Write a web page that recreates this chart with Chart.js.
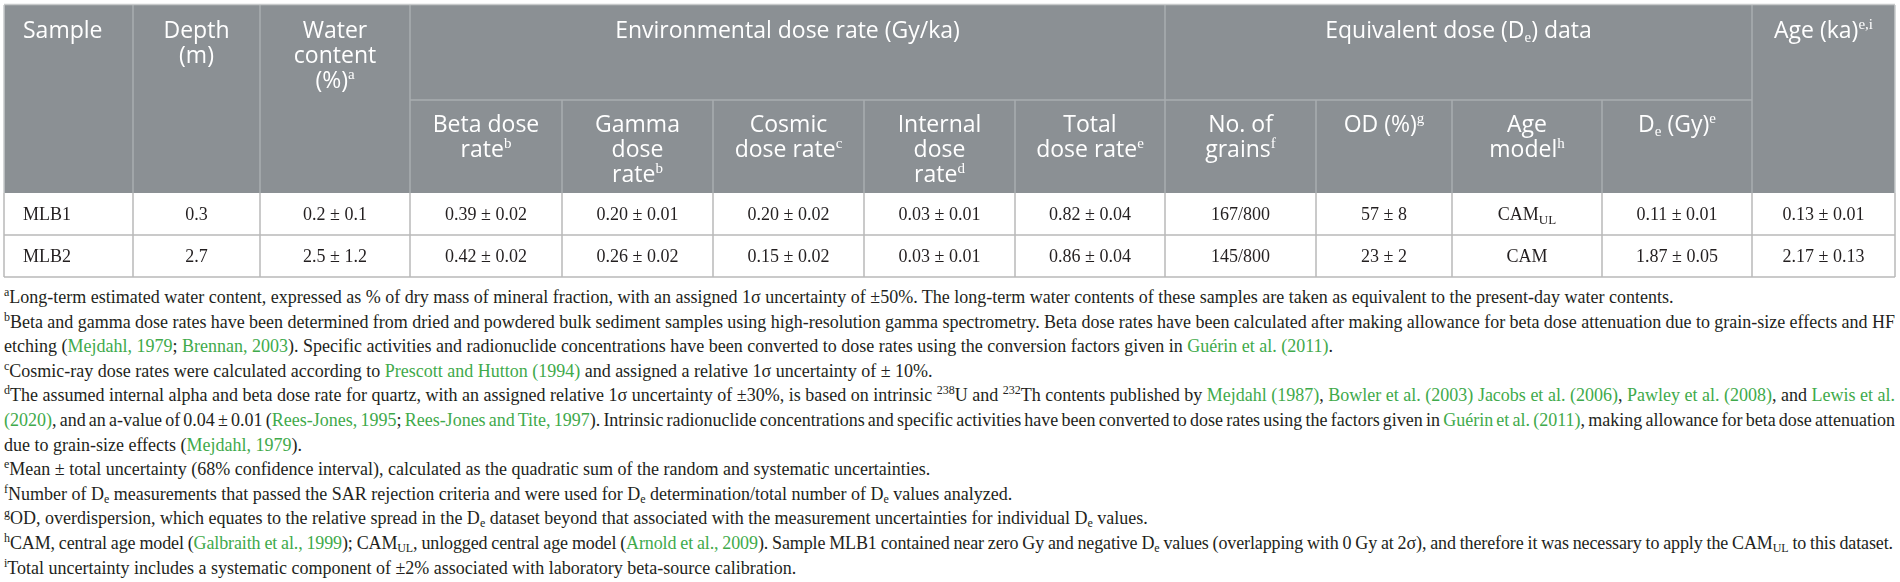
<!DOCTYPE html>
<html>
<head>
<meta charset="utf-8">
<script src="https://cdn.jsdelivr.net/npm/chart.js@4/dist/chart.umd.min.js"></script>
<style>
html, body { margin: 0; padding: 0; background: #fff; }
body { width: 1900px; height: 582px; overflow: hidden; position: relative; }
#tableChart { position: absolute; left: 0; top: 0; }
#notes { position: absolute; left: 4px; top: 285px; width: 1891px;
  font-family: "Liberation Serif", "Times New Roman", serif; font-size: 18px;
  line-height: 24.6px; color: #231f20; }
#notes div { white-space: nowrap; }
#notes a { color: #3faa4b; text-decoration: none; }
#notes sup { font-size: 12px; line-height: 0; vertical-align: 7px; }
#notes sub { font-size: 12px; line-height: 0; vertical-align: -3px; }
</style>
</head>
<body>
<canvas id="tableChart" width="1900" height="282">
  <table>
    <tr><th>Sample</th><th>Depth (m)</th><th>Water content (%)</th><th>Beta dose rate</th><th>Gamma dose rate</th><th>Cosmic dose rate</th><th>Internal dose rate</th><th>Total dose rate</th><th>No. of grains</th><th>OD (%)</th><th>Age model</th><th>De (Gy)</th><th>Age (ka)</th></tr>
    <tr><td>MLB1</td><td>0.3</td><td>0.2 ± 0.1</td><td>0.39 ± 0.02</td><td>0.20 ± 0.01</td><td>0.20 ± 0.02</td><td>0.03 ± 0.01</td><td>0.82 ± 0.04</td><td>167/800</td><td>57 ± 8</td><td>CAMUL</td><td>0.11 ± 0.01</td><td>0.13 ± 0.01</td></tr>
    <tr><td>MLB2</td><td>2.7</td><td>2.5 ± 1.2</td><td>0.42 ± 0.02</td><td>0.26 ± 0.02</td><td>0.15 ± 0.02</td><td>0.03 ± 0.01</td><td>0.86 ± 0.04</td><td>145/800</td><td>23 ± 2</td><td>CAM</td><td>1.87 ± 0.05</td><td>2.17 ± 0.13</td></tr>
  </table>
</canvas>
<div id="notes">
  <div><sup>a</sup>Long-term estimated water content, expressed as % of dry mass of mineral fraction, with an assigned 1σ uncertainty of ±50%. The long-term water contents of these samples are taken as equivalent to the present-day water contents.</div>
  <div class="j"><sup>b</sup>Beta and gamma dose rates have been determined from dried and powdered bulk sediment samples using high-resolution gamma spectrometry. Beta dose rates have been calculated after making allowance for beta dose attenuation due to grain-size effects and HF</div>
  <div>etching (<a>Mejdahl, 1979</a>; <a>Brennan, 2003</a>). Specific activities and radionuclide concentrations have been converted to dose rates using the conversion factors given in <a>Guérin et al. (2011)</a>.</div>
  <div><sup>c</sup>Cosmic-ray dose rates were calculated according to <a>Prescott and Hutton (1994)</a> and assigned a relative 1σ uncertainty of ± 10%.</div>
  <div class="j"><sup>d</sup>The assumed internal alpha and beta dose rate for quartz, with an assigned relative 1σ uncertainty of ±30%, is based on intrinsic <sup>238</sup>U and <sup>232</sup>Th contents published by <a>Mejdahl (1987)</a>, <a>Bowler et al. (2003) Jacobs et al. (2006)</a>, <a>Pawley et al. (2008)</a>, and <a>Lewis et al.</a></div>
  <div class="j"><a>(2020)</a>, and an a-value of 0.04 ± 0.01 (<a>Rees-Jones, 1995</a>; <a>Rees-Jones and Tite, 1997</a>). Intrinsic radionuclide concentrations and specific activities have been converted to dose rates using the factors given in <a>Guérin et al. (2011)</a>, making allowance for beta dose attenuation</div>
  <div>due to grain-size effects (<a>Mejdahl, 1979</a>).</div>
  <div><sup>e</sup>Mean ± total uncertainty (68% confidence interval), calculated as the quadratic sum of the random and systematic uncertainties.</div>
  <div><sup>f</sup>Number of D<sub>e</sub> measurements that passed the SAR rejection criteria and were used for D<sub>e</sub> determination/total number of D<sub>e</sub> values analyzed.</div>
  <div><sup>g</sup>OD, overdispersion, which equates to the relative spread in the D<sub>e</sub> dataset beyond that associated with the measurement uncertainties for individual D<sub>e</sub> values.</div>
  <div class="fit"><sup>h</sup>CAM, central age model (<a>Galbraith et al., 1999</a>); CAM<sub>UL</sub>, unlogged central age model (<a>Arnold et al., 2009</a>). Sample MLB1 contained near zero Gy and negative D<sub>e</sub> values (overlapping with 0 Gy at 2σ), and therefore it was necessary to apply the CAM<sub>UL</sub> to this dataset.</div>
  <div><sup>i</sup>Total uncertainty includes a systematic component of ±2% associated with laboratory beta-source calibration.</div>
</div>
<script>
// table values
var samples = ['MLB1', 'MLB2'];
var depthM = [0.3, 2.7];
var waterPct = [0.2, 2.5], waterErr = [0.1, 1.2];
var betaRate = [0.39, 0.42], betaErr = [0.02, 0.02];
var gammaRate = [0.20, 0.26], gammaErr = [0.01, 0.02];
var cosmicRate = [0.20, 0.15], cosmicErr = [0.02, 0.02];
var internalRate = [0.03, 0.03], internalErr = [0.01, 0.01];
var totalRate = [0.82, 0.86], totalErr = [0.04, 0.04];
var grainsPassed = [167, 145], grainsTotal = [800, 800];
var odPct = [57, 23], odErr = [8, 2];
var ageModels = ['CAM_{UL}', 'CAM'];
var deGy = [0.11, 1.87], deErr = [0.01, 0.05];
var agesKa = [0.13, 2.17], ageErr = [0.01, 0.13];

// header texts
var topHeaders = [
  { lines: ['Sample'], from: 0, to: 1, align: 'left' },
  { lines: ['Depth', '(m)'], from: 1, to: 2 },
  { lines: ['Water', 'content', '(%)^{a}'], from: 2, to: 3 },
  { lines: ['Environmental dose rate (Gy/ka)'], from: 3, to: 8 },
  { lines: ['Equivalent dose (D_{e}) data'], from: 8, to: 12 },
  { lines: ['Age (ka)^{e,i}'], from: 12, to: 13 }
];
var subHeaders = [
  ['Beta dose', 'rate^{b}'],
  ['Gamma', 'dose', 'rate^{b}'],
  ['Cosmic', 'dose rate^{c}'],
  ['Internal', 'dose', 'rate^{d}'],
  ['Total', 'dose rate^{e}'],
  ['No. of', 'grains^{f}'],
  ['OD (%)^{g}'],
  ['Age', 'model^{h}'],
  ['D_{e} (Gy)^{e}']
];

// layout (axis units = pixels)
var colEdges = [4, 133, 260, 410, 562, 713, 864, 1015, 1165, 1316, 1452, 1602, 1752, 1895];
var yTop = 5, ySub = 100, yHead = 193, rowEdges = [193, 235, 277];

function pm(v, e, d) { return v.toFixed(d) + ' ± ' + e.toFixed(d); }

var bodyRows = samples.map(function (s, i) {
  return [s, depthM[i].toFixed(1), pm(waterPct[i], waterErr[i], 1),
    pm(betaRate[i], betaErr[i], 2), pm(gammaRate[i], gammaErr[i], 2),
    pm(cosmicRate[i], cosmicErr[i], 2), pm(internalRate[i], internalErr[i], 2),
    pm(totalRate[i], totalErr[i], 2), grainsPassed[i] + '/' + grainsTotal[i],
    odPct[i] + ' ± ' + odErr[i], ageModels[i], pm(deGy[i], deErr[i], 2),
    pm(agesKa[i], ageErr[i], 2)];
});

function parseRich(s) {
  var out = [], re = /([\^_])\{([^}]*)\}/g, last = 0, m;
  while ((m = re.exec(s))) {
    if (m.index > last) out.push({ t: s.slice(last, m.index), k: 'n' });
    out.push({ t: m[2], k: m[1] === '^' ? 'sup' : 'sub' });
    last = re.lastIndex;
  }
  if (last < s.length) out.push({ t: s.slice(last), k: 'n' });
  return out;
}

function drawRich(ctx, s, x, base, st, align) {
  var parts = parseRich(s), w = 0;
  parts.forEach(function (p) {
    ctx.font = p.k === 'n' ? st.font : st.small;
    p.w = ctx.measureText(p.t).width;
    w += p.w;
  });
  var cx = align === 'left' ? x : x - w / 2;
  ctx.textAlign = 'left';
  ctx.textBaseline = 'alphabetic';
  parts.forEach(function (p) {
    ctx.font = p.k === 'n' ? st.font : st.small;
    var dy = p.k === 'sup' ? -st.supUp : (p.k === 'sub' ? st.subDown : 0);
    ctx.fillText(p.t, cx, base + dy);
    cx += p.w;
  });
}

var headStyle = { font: '400 23px "Open Sans"', small: '15px "Liberation Serif"', supUp: 9, subDown: 4 };
var bodyStyle = { font: '18px "Liberation Serif"', small: '13px "Liberation Serif"', supUp: 7, subDown: 4 };

var tablePlugin = {
  id: 'tableCells',
  afterDraw: function (chart) {
    var ctx = chart.ctx, sx = chart.scales.x, sy = chart.scales.y;
    var px = function (v) { return sx.getPixelForValue(v); };
    var py = function (v) { return sy.getPixelForValue(v); };
    var L = px(colEdges[0]), R = px(colEdges[colEdges.length - 1]);
    ctx.save();

    // header block
    ctx.fillStyle = '#8b9094';
    ctx.fillRect(L, py(yTop), R - L, py(yHead) - py(yTop));

    // header rules
    ctx.strokeStyle = '#a9adb0';
    ctx.lineWidth = 1.5;
    ctx.beginPath();
    [1, 2, 3, 8, 12].forEach(function (c) {
      ctx.moveTo(px(colEdges[c]), py(yTop)); ctx.lineTo(px(colEdges[c]), py(yHead));
    });
    [4, 5, 6, 7, 9, 10, 11].forEach(function (c) {
      ctx.moveTo(px(colEdges[c]), py(ySub)); ctx.lineTo(px(colEdges[c]), py(yHead));
    });
    ctx.moveTo(px(colEdges[3]), py(ySub)); ctx.lineTo(px(colEdges[12]), py(ySub));
    ctx.stroke();

    // body rules
    ctx.strokeStyle = '#b9b9b9';
    ctx.beginPath();
    colEdges.forEach(function (e) {
      ctx.moveTo(px(e), py(rowEdges[0])); ctx.lineTo(px(e), py(rowEdges[rowEdges.length - 1]));
    });
    rowEdges.slice(1).forEach(function (r) {
      ctx.moveTo(L, py(r)); ctx.lineTo(R, py(r));
    });
    ctx.stroke();

    // outer top line
    ctx.strokeStyle = '#c8cacb';
    ctx.beginPath();
    ctx.moveTo(L, py(yTop) - 0.5); ctx.lineTo(R, py(yTop) - 0.5);
    ctx.moveTo(L, py(yTop)); ctx.lineTo(L, py(yHead));
    ctx.moveTo(R, py(yTop)); ctx.lineTo(R, py(yHead));
    ctx.stroke();

    // header text
    ctx.fillStyle = '#ffffff';
    topHeaders.forEach(function (h) {
      var x = h.align === 'left' ? px(colEdges[h.from]) + 19 : (px(colEdges[h.from]) + px(colEdges[h.to])) / 2;
      h.lines.forEach(function (ln, k) {
        drawRich(ctx, ln, x, py(30 + 25 * k) + 8, headStyle, h.align);
      });
    });
    subHeaders.forEach(function (lines, j) {
      var c = j + 3;
      var x = (px(colEdges[c]) + px(colEdges[c + 1])) / 2;
      lines.forEach(function (ln, k) {
        drawRich(ctx, ln, x, py(124 + 25 * k) + 8, headStyle, 'center');
      });
    });

    // body text
    ctx.fillStyle = '#231f20';
    bodyRows.forEach(function (row, i) {
      var yc = (py(rowEdges[i]) + py(rowEdges[i + 1])) / 2;
      row.forEach(function (cell, c) {
        if (c === 0) {
          drawRich(ctx, cell, px(colEdges[0]) + 19, yc + 6, bodyStyle, 'left');
        } else {
          drawRich(ctx, cell, (px(colEdges[c]) + px(colEdges[c + 1])) / 2, yc + 6, bodyStyle, 'center');
        }
      });
    });
    ctx.restore();
  }
};

new Chart(document.getElementById('tableChart').getContext('2d'), {
  type: 'scatter',
  data: { datasets: [] },
  options: {
    responsive: false,
    animation: false,
    events: [],
    devicePixelRatio: 1,
    layout: { padding: 0 },
    plugins: { legend: { display: false }, tooltip: { enabled: false } },
    scales: {
      x: { type: 'linear', min: 0, max: 1900, display: false },
      y: { type: 'linear', min: 0, max: 282, reverse: true, display: false }
    }
  },
  plugins: [tablePlugin]
});

// stretch (or squeeze) the full-width footnote lines to the table width
Array.prototype.forEach.call(document.querySelectorAll('#notes div.j, #notes div.fit'), function (el) {
  var span = document.createElement('span');
  while (el.firstChild) span.appendChild(el.firstChild);
  el.appendChild(span);
  var target = el.classList.contains('fit') ? 1889 : 1891;
  var w = span.getBoundingClientRect().width;
  if (el.classList.contains('fit') && w <= target) return;
  var spaces = (el.textContent.match(/ /g) || []).length;
  if (el.classList.contains('fit')) {
    var chars = el.textContent.length;
    el.style.letterSpacing = ((target - w) * 0.6 / chars) + 'px';
    w = span.getBoundingClientRect().width;
  }
  if (spaces) el.style.wordSpacing = ((target - w) / spaces) + 'px';
});
</script>
</body>
</html>
